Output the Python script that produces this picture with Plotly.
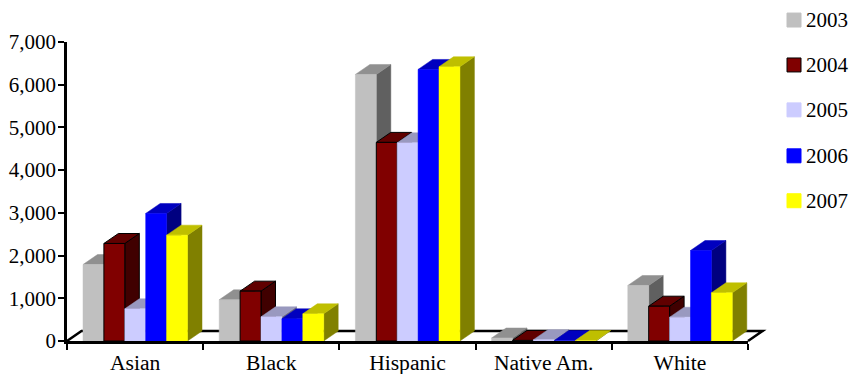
import plotly.graph_objects as go

categories = ["Asian", "Black", "Hispanic", "Native Am.", "White"]
years = ["2003", "2004", "2005", "2006", "2007"]
v2003 = [1790, 965, 6240, 70, 1300]
v2004 = [2283, 1167, 4650, 15, 815]
v2005 = [754, 567, 4640, 30, 557]
v2006 = [2986, 520, 6358, 12, 2119]
v2007 = [2478, 637, 6421, 12, 1129]
series = [v2003, v2004, v2005, v2006, v2007]
y_ticks = [0, 1000, 2000, 3000, 4000, 5000, 6000, 7000]

front = ["#C0C0C0", "#800000", "#CCCCFF", "#0000FF", "#FFFF00"]
top = ["#909090", "#600000", "#9999BF", "#0000BF", "#BFBF00"]
side = ["#606060", "#400000", "#666680", "#000080", "#808000"]
edge = [None, "#000000", None, None, None]

W, H = 849, 374
L, R, T, B = 67, 748, 42, 341.5
FONT = "Liberation Serif"
FS_X, FS_Y, FS_LEG = 21.6, 21, 21
DEPTH_PX_X, DEPTH_PX_Y = 14.5, 10
DEPTH_X = DEPTH_PX_X / ((R - L) / 5)
DEPTH_Y = DEPTH_PX_Y / ((B - T) / 7000)
BAR_START = 16 / ((R - L) / 5)
BAR_W = 20.9 / ((R - L) / 5)

px2x = lambda p: (p - L) / (R - L)
px2y = lambda p: (B - p) / (B - T)


def polys(rects):
    xs, ys = [], []
    for px, py in rects:
        xs += px + [None]
        ys += py + [None]
    return xs, ys


fig = go.Figure()

for s, vals in enumerate(series):
    sides, tops, fronts = [], [], []
    for c, v in enumerate(vals):
        x0 = c + BAR_START + s * BAR_W
        x1 = x0 + BAR_W
        fronts.append(([x0, x1, x1, x0, x0], [0, 0, v, v, 0]))
        tops.append(([x0, x1, x1 + DEPTH_X, x0 + DEPTH_X, x0],
                     [v, v, v + DEPTH_Y, v + DEPTH_Y, v]))
        sides.append(([x1, x1 + DEPTH_X, x1 + DEPTH_X, x1, x1],
                      [0, DEPTH_Y, v + DEPTH_Y, v, 0]))
    for rects, col in ((sides, side[s]), (tops, top[s]), (fronts, front[s])):
        xs, ys = polys(rects)
        fig.add_trace(go.Scatter(
            x=xs, y=ys, mode="lines", fill="toself", fillcolor=col,
            line=dict(color=edge[s] or col, width=1 if edge[s] else 0.5),
            cliponaxis=False, name=years[s], showlegend=False,
            hoverinfo="x+y"))

shapes, annotations = [], []

# floor outline behind the bars (extends past the plot area on the right)
fx0, fx1 = px2x(L), px2x(R)
fy0 = px2y(B)
dfx, dfy = DEPTH_PX_X / (R - L), DEPTH_PX_Y / (B - T)
shapes.append(dict(
    type="path", xref="paper", yref="paper", layer="below",
    path=(f"M {fx0} {fy0} L {fx0 + dfx} {fy0 + dfy} "
          f"L {fx1 + dfx} {fy0 + dfy} L {fx1} {fy0}"),
    line=dict(color="black", width=2.5)))

# legend
LEG_SWATCH_X = (787, 801)
LEG_TEXT_X = 806
LEG_Y = [20, 65, 110, 156, 201]
for i, yr in enumerate(years):
    shapes.append(dict(
        type="rect", xref="paper", yref="paper",
        x0=px2x(LEG_SWATCH_X[0]), x1=px2x(LEG_SWATCH_X[1]),
        y0=px2y(LEG_Y[i] + 7), y1=px2y(LEG_Y[i] - 7),
        fillcolor=front[i],
        line=dict(color=edge[i] or front[i], width=1)))
    annotations.append(dict(
        xref="paper", yref="paper", x=px2x(LEG_TEXT_X), y=px2y(LEG_Y[i]),
        text=yr, showarrow=False, xanchor="left", yanchor="middle",
        borderpad=0, borderwidth=0,
        font=dict(family=FONT, size=FS_LEG, color="black")))

fig.update_layout(
    width=W, height=H, autosize=False,
    margin=dict(l=L, r=W - R, t=T, b=H - B, pad=0),
    paper_bgcolor="white", plot_bgcolor="white",
    showlegend=False, shapes=shapes, annotations=annotations,
    font=dict(family=FONT, size=FS_Y, color="black"),
    xaxis=dict(
        range=[0, 5], automargin=False, showgrid=False, zeroline=False,
        showline=True, linecolor="black", linewidth=2.5,
        tickmode="array", tickvals=[i + 0.5 for i in range(5)], ticktext=categories,
        ticks="", ticklabelstandoff=0,
        tickfont=dict(family=FONT, size=FS_X, color="black"),
        minor=dict(tickmode="array", tickvals=[0, 1, 2, 3, 4, 5], ticks="outside",
                   ticklen=6, tickwidth=2, tickcolor="black", showgrid=False),
    ),
    yaxis=dict(
        range=[0, 7000], automargin=False, showgrid=False, zeroline=False,
        showline=True, linecolor="black", linewidth=2.5,
        tickmode="array", tickvals=y_ticks, tickformat=",",
        ticks="outside", ticklen=6, tickwidth=2, tickcolor="black",
        ticklabelstandoff=-2,
        tickfont=dict(family=FONT, size=FS_Y, color="black"),
    ),
)

fig.write_html("out.html", config=dict(displayModeBar=False),
               post_script="document.body.style.margin='0';")
